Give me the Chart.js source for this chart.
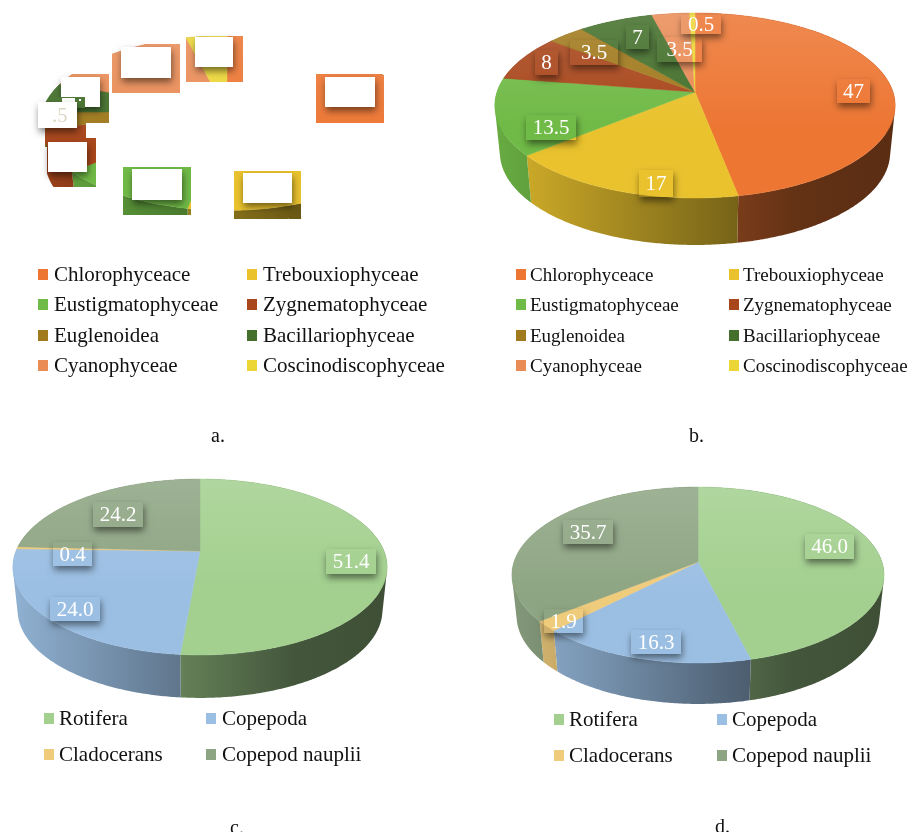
<!DOCTYPE html>
<html>
<head>
<meta charset="utf-8">
<title>Phytoplankton and zooplankton composition</title>
<script src="https://cdn.jsdelivr.net/npm/chart.js@4/dist/chart.umd.min.js"></script>
<style>
    html, body { margin: 0; padding: 0; background: #fff; }
    #page { position: relative; width: 909px; height: 832px; overflow: hidden; font-family: "Liberation Serif", serif; color: #111; }
    #page canvas { position: absolute; left: 0; top: 0; }
    .swatch { position: absolute; width: 10px; height: 11px; }
    .name, .caption { position: absolute; white-space: nowrap; line-height: 1; }
</style>
</head>
<body>
<div id="page"></div>
<script>
const algaeNames = ['Chlorophyceace', 'Trebouxiophyceae', 'Eustigmatophyceae', 'Zygnematophyceae',
    'Euglenoidea', 'Bacillariophyceae', 'Cyanophyceae', 'Coscinodiscophyceae'];
const algaeColors = ['#ed7633', '#e9c22e', '#70ba47', '#a9471c', '#a17a1d', '#44702b', '#ea8c56', '#ecd636'];
const zooNames = ['Rotifera', 'Copepoda', 'Cladocerans', 'Copepod nauplii'];
const zooColors = ['#a3d08f', '#9bbfe3', '#efcb7c', '#8ea583'];

const valuesA = [40, 13, 11, 8, 3, 5.5, 15.5, 4];
const valuesB = [47, 17, 13.5, 8, 3.5, 7, 3.5, 0.5];
const valuesC = [51.4, 24.0, 0.4, 24.2];
const valuesD = [46.0, 16.3, 1.9, 35.7];

// Boxes behind the value labels, x y w h
const boxesB = [[837, 79, 33, 24], [639, 170, 34, 27], [526, 115, 50, 25], [535, 50, 23, 25],
    [570, 40, 48, 25], [626, 25, 23, 24], [657, 37, 45, 25], [681, 15, 40, 19]];
const boxesC = [[326, 549, 50, 25], [50, 597, 50, 24], [53, 542, 39, 24], [93, 502, 50, 25]];
const boxesD = [[805, 534, 49, 25], [631, 630, 50, 24], [544, 609, 39, 24], [563, 520, 50, 24]];

// Panel a only shows scraps of the pie, with blank panes over them
const scrapLayers = [
    { pie: [316, 74, 68, 49] }, { pie: [186, 36, 57, 46] }, { pie: [112, 44, 68, 49] },
    { pie: [45, 74, 64, 49] }, { pie: [45, 120, 41, 27] }, { pie: [47, 138, 49, 49] },
    { pie: [123, 167, 68, 48] }, { pie: [234, 171, 67, 48] },
    { pane: [325, 77, 50, 30] }, { pane: [195, 37, 38, 30] }, { pane: [121, 47, 50, 31] },
    { pane: [61, 77, 39, 30] }, { pane: [48, 142, 39, 30] }, { pane: [132, 169, 50, 31] },
    { pane: [243, 173, 49, 30] },
    { pie: [52, 97, 33, 11] }, { plain: [62, 98, 13, 9] }, { plain: [79, 99, 2, 2] },
    { pane: [38, 102, 39, 26] }
];

function shade(hex, f) {
    const n = parseInt(hex.slice(1), 16);
    const r = Math.round((n >> 16) * f), g = Math.round(((n >> 8) & 255) * f), b = Math.round((n & 255) * f);
    return `rgb(${r},${g},${b})`;
}

// Perspective projection of a point on the pie rim, angle clockwise from 12 o'clock
function rimPoint(geo, theta) {
    const w = 1 + geo.tilt * Math.cos(theta);
    return {
        x: geo.cx + geo.rx * Math.sin(theta) / w,
        y: geo.cy - geo.ry * Math.cos(theta) / w
    };
}

// The lower rim is a little narrower, it sits further from the eye
function lowerRimPoint(geo, p) {
    return { x: geo.cx + (p.x - geo.cx) * 0.975, y: p.y + geo.depth };
}

function rimAngles(el) {
    const from = el.startAngle + Math.PI / 2;
    const to = el.endAngle + Math.PI / 2;
    const steps = Math.max(2, Math.ceil((to - from) / 0.01));
    const list = [];
    for (let i = 0; i <= steps; i++) list.push(from + (to - from) * i / steps);
    return list;
}

function paintPie(ctx, arcs, geo) {
    // Side walls first, the top surface hides the back ones
    arcs.forEach(el => {
        const base = el.options.backgroundColor;
        const wall = ctx.createLinearGradient(geo.cx - geo.rx, 0, geo.cx + geo.rx, 0);
        wall.addColorStop(0, shade(base, 0.92));
        wall.addColorStop(0.5, shade(base, 0.58));
        wall.addColorStop(0.75, shade(base, 0.42));
        wall.addColorStop(1, shade(base, 0.38));
        const pts = rimAngles(el).map(t => rimPoint(geo, t));
        // One path of thin strips, all wound the same way, so a single fill covers the wall
        ctx.beginPath();
        for (let i = 1; i < pts.length; i++) {
            const quad = [pts[i - 1], pts[i], lowerRimPoint(geo, pts[i]), lowerRimPoint(geo, pts[i - 1])];
            const area = quad.reduce((sum, p, k) => {
                const q = quad[(k + 1) % 4];
                return sum + p.x * q.y - q.x * p.y;
            }, 0);
            if (area < 0) quad.reverse();
            quad.forEach((p, k) => k ? ctx.lineTo(p.x, p.y) : ctx.moveTo(p.x, p.y));
            ctx.closePath();
        }
        ctx.fillStyle = wall;
        ctx.fill('nonzero');
    });
    arcs.forEach(el => {
        ctx.beginPath();
        ctx.moveTo(geo.cx, geo.cy);
        rimAngles(el).forEach(t => {
            const p = rimPoint(geo, t);
            ctx.lineTo(p.x, p.y);
        });
        ctx.closePath();
        ctx.fillStyle = el.options.backgroundColor;
        ctx.strokeStyle = el.options.backgroundColor;
        ctx.lineWidth = 0.5;
        ctx.fill();
        ctx.stroke();
    });
    // Lighter sheen towards the back of the disc
    const topY = geo.cy - geo.ry / (1 + geo.tilt);
    const sheen = ctx.createLinearGradient(0, topY, 0, geo.cy + geo.ry * 0.4);
    sheen.addColorStop(0, 'rgba(255,255,255,0.14)');
    sheen.addColorStop(1, 'rgba(255,255,255,0)');
    ctx.beginPath();
    for (let t = 0; t < Math.PI * 2; t += 0.02) {
        const p = rimPoint(geo, t);
        ctx.lineTo(p.x, p.y);
    }
    ctx.closePath();
    ctx.fillStyle = sheen;
    ctx.fill();
}

function pieInRect(ctx, arcs, geo, r) {
    ctx.save();
    ctx.beginPath();
    ctx.rect(r[0], r[1], r[2], r[3]);
    ctx.clip();
    paintPie(ctx, arcs, geo);
    ctx.restore();
}

function shadowedRect(ctx, r, fill) {
    ctx.save();
    ctx.shadowColor = 'rgba(0,0,0,0.5)';
    ctx.shadowBlur = 7;
    ctx.shadowOffsetX = 1;
    ctx.shadowOffsetY = 4;
    ctx.fillStyle = fill;
    ctx.fillRect(r[0], r[1], r[2], r[3]);
    ctx.restore();
}

// Replaces the stock flat arcs with a tilted disc built from the arc angles
const tiltedPie = {
    id: 'tiltedPie',
    beforeDatasetsDraw(chart, args, opts) {
        const ctx = chart.ctx;
        const arcs = chart.getDatasetMeta(0).data;
        const values = chart.data.datasets[0].data;
        if (opts.layers) {
            opts.layers.forEach(layer => {
                if (layer.pie) pieInRect(ctx, arcs, opts.geo, layer.pie);
                if (layer.pane) shadowedRect(ctx, layer.pane, '#fff');
                if (layer.plain) {
                    ctx.fillStyle = '#fff';
                    ctx.fillRect(...layer.plain);
                }
            });
            ctx.font = '20.5px "Liberation Serif"';
            ctx.fillStyle = '#ddd6c4';
            ctx.textAlign = 'left';
            ctx.textBaseline = 'alphabetic';
            ctx.fillText('.5', 52, 122);
            return false;
        }
        paintPie(ctx, arcs, opts.geo);
        opts.boxes.forEach((r, i) => {
            shadowedRect(ctx, r, arcs[i].options.backgroundColor);
            pieInRect(ctx, arcs, opts.geo, r);
            ctx.font = '21px "Liberation Serif"';
            ctx.fillStyle = '#fff';
            ctx.textAlign = 'center';
            ctx.textBaseline = 'middle';
            const label = opts.decimals ? values[i].toFixed(opts.decimals) : String(values[i]);
            ctx.fillText(label, r[0] + r[2] / 2, r[1] + r[3] / 2 + 1);
        });
        return false;
    }
};

function makePanel(names, values, colors, pluginOpts) {
    const canvas = document.createElement('canvas');
    canvas.width = 909;
    canvas.height = 832;
    document.getElementById('page').appendChild(canvas);
    new Chart(canvas.getContext('2d'), {
        type: 'pie',
        data: { labels: names, datasets: [{ data: values, backgroundColor: colors, borderWidth: 0 }] },
        options: {
            responsive: false,
            animation: false,
            plugins: { legend: { display: false }, tooltip: { enabled: false }, tiltedPie: pluginOpts }
        },
        plugins: [tiltedPie]
    });
}

// Legend in two columns, drawn as ordinary page text
function makeLegend(names, colors, spec) {
    const page = document.getElementById('page');
    names.forEach((name, i) => {
        const col = i % 2, row = Math.floor(i / 2);
        const swatch = document.createElement('div');
        swatch.className = 'swatch';
        swatch.style.left = spec.swatchX[col] + 'px';
        swatch.style.top = (spec.rowY[row] - 6) + 'px';
        swatch.style.background = colors[i];
        page.appendChild(swatch);
        const text = document.createElement('div');
        text.className = 'name';
        text.textContent = name;
        text.style.left = spec.textX[col] + 'px';
        text.style.top = (spec.rowY[row] - spec.size / 2 - 1) + 'px';
        text.style.fontSize = spec.size + 'px';
        page.appendChild(text);
    });
}

function makeCaption(text, x, y) {
    const el = document.createElement('div');
    el.className = 'caption';
    el.textContent = text;
    el.style.left = x + 'px';
    el.style.top = y + 'px';
    el.style.fontSize = '20px';
    document.getElementById('page').appendChild(el);
}

makePanel(algaeNames, valuesA, algaeColors, {
    geo: { cx: 227, cy: 112, rx: 185, ry: 86, tilt: 0.126, depth: 38 },
    layers: scrapLayers
});
makePanel(algaeNames, valuesB, algaeColors, {
    geo: { cx: 695, cy: 92, rx: 198, ry: 90.5, tilt: 0.146, depth: 47 },
    boxes: boxesB
});
makePanel(zooNames, valuesC, zooColors, {
    geo: { cx: 200, cy: 551, rx: 184, ry: 85, tilt: 0.182, depth: 43 },
    boxes: boxesC, decimals: 1
});
makePanel(zooNames, valuesD, zooColors, {
    geo: { cx: 698, cy: 562, rx: 184, ry: 86, tilt: 0.148, depth: 41 },
    boxes: boxesD, decimals: 1
});

makeLegend(algaeNames, algaeColors, { swatchX: [38, 247], textX: [54, 263], rowY: [275, 305, 336, 366], size: 21 });
makeLegend(algaeNames, algaeColors, { swatchX: [516, 729], textX: [530, 743], rowY: [275, 305, 336, 366], size: 19 });
makeLegend(zooNames, zooColors, { swatchX: [44, 206], textX: [59, 222], rowY: [719, 755], size: 21 });
makeLegend(zooNames, zooColors, { swatchX: [554, 717], textX: [569, 732], rowY: [720, 756], size: 21 });

makeCaption('a.', 211, 425);
makeCaption('b.', 689, 425);
makeCaption('c.', 230, 817);
makeCaption('d.', 715, 816);
</script>
</body>
</html>
